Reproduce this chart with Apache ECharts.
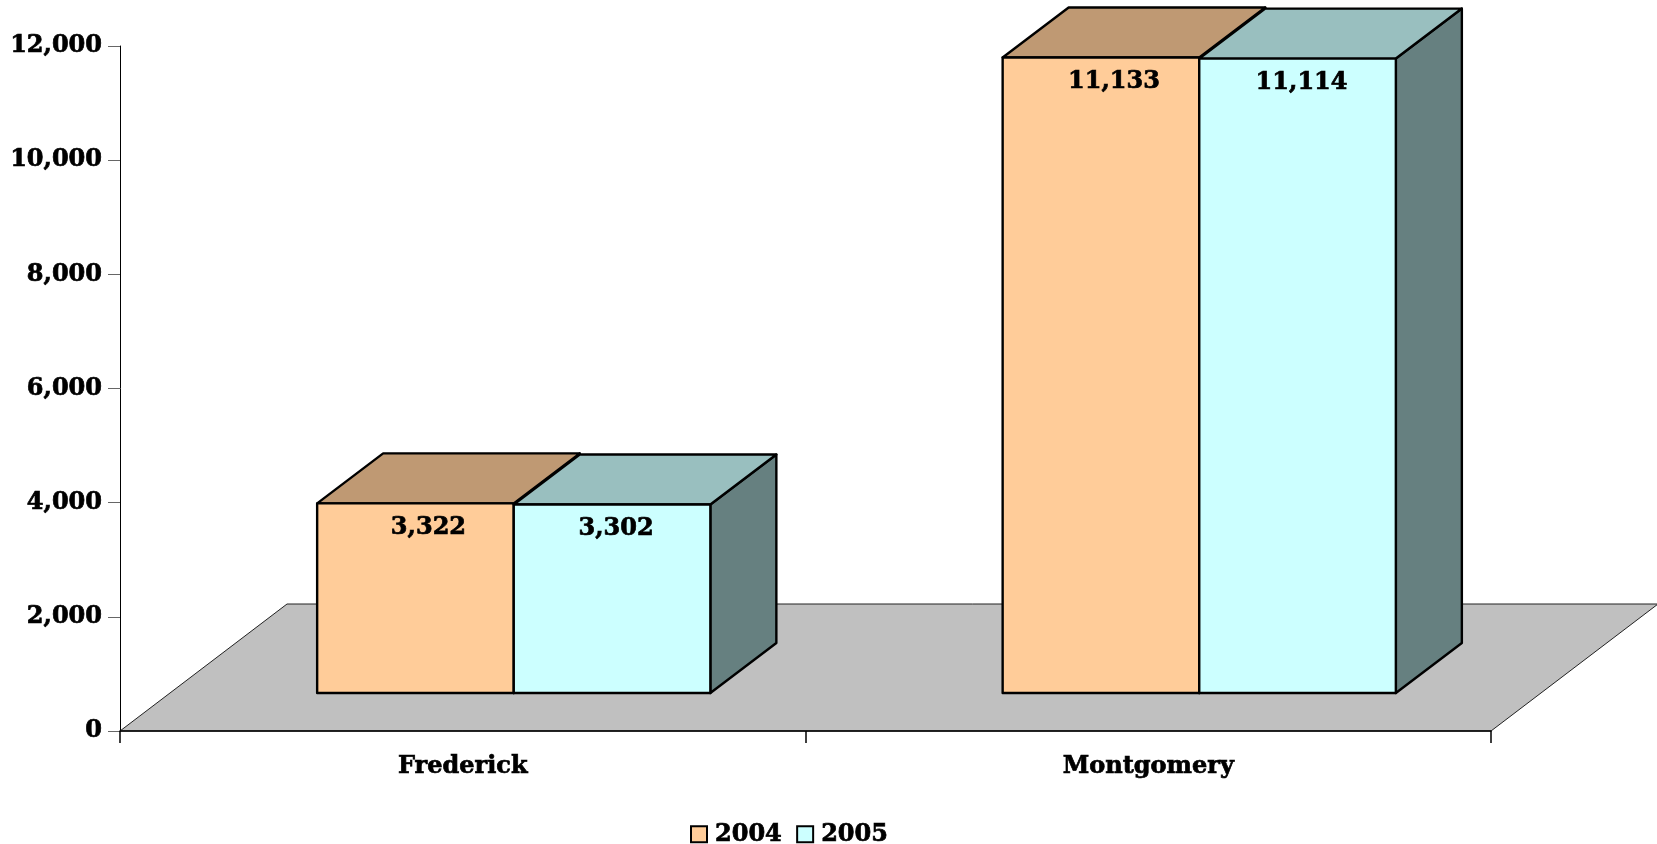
<!DOCTYPE html>
<html>
<head>
<meta charset="utf-8">
<script src="https://cdn.jsdelivr.net/npm/echarts@6/dist/echarts.min.js"></script>
<style>
html,body{margin:0;padding:0;background:#fff;}
#chart{width:1657px;height:844px;}
</style>
</head>
<body>
<div id="chart"></div>
<script>
const categories = ['Frederick', 'Montgomery'];
const seriesNames = ['2004', '2005'];
const values2004 = [3322, 11133];
const values2005 = [3302, 11114];
const yTickValues = [0, 2000, 4000, 6000, 8000, 10000, 12000];

const FONT = '"DejaVu Serif", "Liberation Serif", serif';
const FLOOR_DX = 167, FLOOR_DY = -127;
const FRONT_DX = 51, FRONT_DY = -38;
const DEPTH_DX = 66, DEPTH_DY = -50;
const BAR_FRAC = 0.2868;
const LABEL_SHIFT = [13, 4];
const HEAVY = { textBorderColor: '#000', textBorderWidth: 0.7 };

const palettes = [
  { front: '#FFCC99', top: '#BF9973', side: '#806650' },
  { front: '#CCFFFF', top: '#99BFBF', side: '#668080' }
];

function fmt(v) { return Number(v).toLocaleString('en-US'); }

function barRender(sIdx) {
  const pal = palettes[sIdx];
  return function (params, api) {
    const ci = api.value(0), v = api.value(1);
    const p0 = api.coord([ci, 0]);
    const p1 = api.coord([ci, v]);
    const band = api.size([1, 0])[0];
    const bw = band * BAR_FRAC;
    const x0 = p0[0] - (sIdx === 0 ? bw : 0) + FRONT_DX;
    const x1 = x0 + bw;
    const yb = p0[1] + FRONT_DY, yt = p1[1] + FRONT_DY;
    const dx = DEPTH_DX, dy = DEPTH_DY;
    const stroke = { stroke: '#000', lineWidth: 2.4, lineJoin: 'round' };
    return {
      type: 'group',
      children: [
        { type: 'polygon', shape: { points: [[x1, yt], [x1 + dx, yt + dy], [x1 + dx, yb + dy], [x1, yb]] },
          style: Object.assign({ fill: pal.side }, stroke) },
        { type: 'polygon', shape: { points: [[x0, yt], [x1, yt], [x1 + dx, yt + dy], [x0 + dx, yt + dy]] },
          style: Object.assign({ fill: pal.top }, stroke) },
        { type: 'rect', shape: { x: x0, y: yt, width: bw, height: yb - yt },
          style: Object.assign({ fill: pal.front }, stroke) },
        { type: 'text', x: (x0 + x1) / 2 + LABEL_SHIFT[sIdx], y: yt + 24,
          style: { text: fmt(v), font: 'bold 24px ' + FONT, fill: '#000', align: 'center', verticalAlign: 'middle',
                   stroke: '#000', lineWidth: 0.7 } }
      ]
    };
  };
}

function floorRender(params, api) {
  const cs = params.coordSys;
  const bx = cs.x, by = cs.y + cs.height, w = cs.width;
  return {
    type: 'polygon',
    shape: { points: [[bx, by], [bx + w, by], [bx + w + FLOOR_DX, by + FLOOR_DY], [bx + FLOOR_DX, by + FLOOR_DY]] },
    style: { fill: '#C0C0C0', stroke: '#222', lineWidth: 1 }
  };
}

const chart = echarts.init(document.getElementById('chart'), null, { renderer: 'canvas' });
chart.setOption({
  animation: false,
  backgroundColor: '#fff',
  grid: { left: 120, right: 166, top: 46, bottom: 113, containLabel: false },
  xAxis: {
    type: 'category',
    data: categories,
    boundaryGap: true,
    z: 5,
    axisLine: { show: true, lineStyle: { color: '#000', width: 1.5 } },
    axisTick: { show: true, length: 12, alignWithLabel: false, lineStyle: { color: '#000', width: 1.5 } },
    axisLabel: Object.assign({ margin: 24, fontSize: 24, fontWeight: 'bold', fontFamily: FONT, color: '#000' }, HEAVY)
  },
  yAxis: {
    type: 'value',
    min: yTickValues[0],
    max: yTickValues[yTickValues.length - 1],
    interval: yTickValues[1] - yTickValues[0],
    splitLine: { show: false },
    axisLine: { show: true, lineStyle: { color: '#000', width: 1 } },
    axisTick: { show: true, length: 12, lineStyle: { color: '#666', width: 1 } },
    axisLabel: Object.assign({ margin: 18, fontSize: 24, fontWeight: 'bold', fontFamily: FONT, color: '#000',
      padding: [4, 0, 0, 0], formatter: fmt }, HEAVY)
  },
  legend: {
    left: 685,
    top: 817,
    icon: 'rect',
    itemWidth: 16,
    itemHeight: 16,
    itemGap: 14,
    data: seriesNames,
    textStyle: Object.assign({ fontSize: 24, fontWeight: 'bold', fontFamily: FONT, color: '#000', padding: [0, 0, 0, 3] }, HEAVY)
  },
  series: [
    { type: 'custom', name: 'floor', clip: false, silent: true, renderItem: floorRender, data: [[0, 0]], z: 1 },
    { type: 'custom', name: seriesNames[0], clip: false, renderItem: barRender(0),
      itemStyle: { color: palettes[0].front, borderColor: '#000', borderWidth: 1.5 },
      data: values2004.map((v, i) => [i, v]), z: 2 },
    { type: 'custom', name: seriesNames[1], clip: false, renderItem: barRender(1),
      itemStyle: { color: palettes[1].front, borderColor: '#000', borderWidth: 1.5 },
      data: values2005.map((v, i) => [i, v]), z: 3 }
  ]
});
</script>
</body>
</html>
